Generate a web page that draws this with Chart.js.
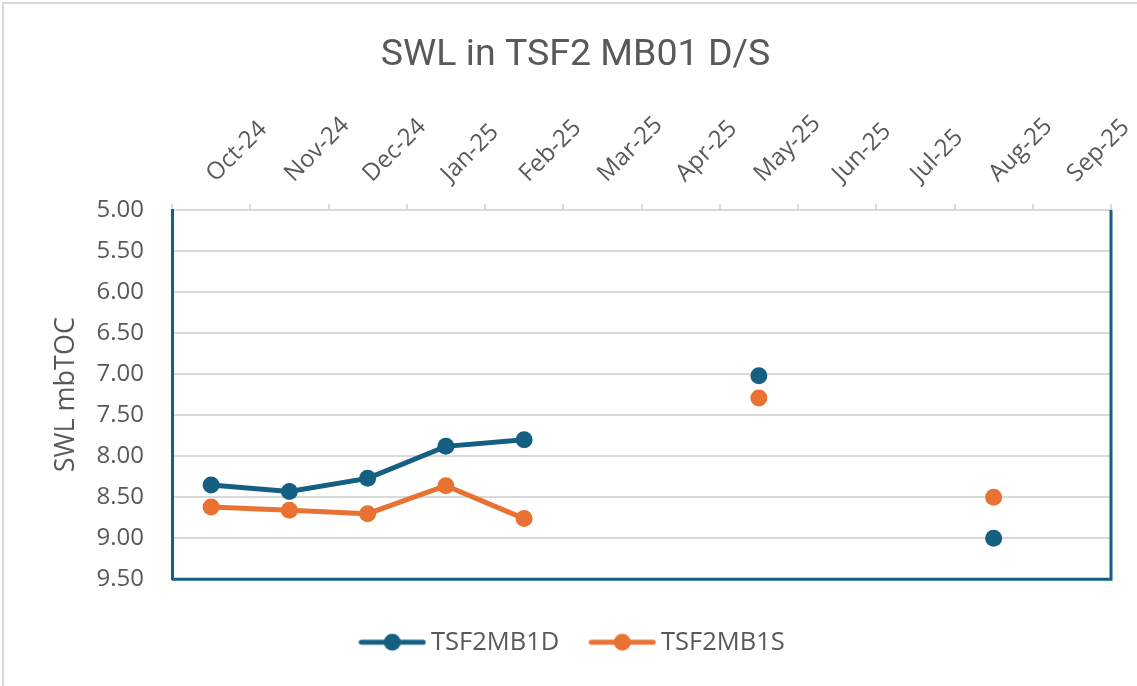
<!DOCTYPE html>
<html>
<head>
<meta charset="utf-8">
<script src="https://cdn.jsdelivr.net/npm/chart.js@4.4.1/dist/chart.umd.min.js"></script>
<style>
  body { margin: 0; background: #fff; }
  #frame { position: absolute; left: 2px; top: 2px; width: 1200px; height: 760px; border: 2px solid #d9d9d9; }
  #wrap { position: absolute; left: 0; top: 0; width: 1137px; height: 686px; }
</style>
</head>
<body>
<div id="frame"></div>
<div id="wrap"><canvas id="chart"></canvas></div>
<script>
const months = ['Oct-24', 'Nov-24', 'Dec-24', 'Jan-25', 'Feb-25', 'Mar-25', 'Apr-25', 'May-25', 'Jun-25', 'Jul-25', 'Aug-25', 'Sep-25'];
const deepValues = [8.35, 8.43, 8.27, 7.88, 7.80, null, null, 7.02, null, null, 9.00, null];
const shallowValues = [8.62, 8.66, 8.70, 8.36, 8.76, null, null, 7.29, null, null, 8.50, null];
const yTicks = [5.0, 5.5, 6.0, 6.5, 7.0, 7.5, 8.0, 8.5, 9.0, 9.5];

const BLUE = '#156082';
const ORANGE = '#E97132';
const GREY = '#595959';
const GRID = '#d9d9d9';
const FONT = "'Open Sans', sans-serif";

// line with a dot in the middle, like the Excel legend key
function legendIcon(color) {
    const c = document.createElement('canvas');
    c.width = 68;
    c.height = 20;
    const g = c.getContext('2d');
    g.strokeStyle = color;
    g.lineWidth = 5;
    g.lineCap = 'round';
    g.beginPath();
    g.moveTo(3, 10);
    g.lineTo(65, 10);
    g.stroke();
    g.fillStyle = color;
    g.beginPath();
    g.arc(34, 10, 8.5, 0, Math.PI * 2);
    g.fill();
    return c;
}

// blue plot border on bottom and right
const frameLines = {
    id: 'frameLines',
    afterDraw(chart) {
        const { ctx, chartArea: a } = chart;
        ctx.save();
        ctx.strokeStyle = BLUE;
        ctx.lineWidth = 3;
        ctx.beginPath();
        ctx.moveTo(a.left, a.bottom);
        ctx.lineTo(a.right, a.bottom);
        ctx.lineTo(a.right, a.top);
        ctx.stroke();
        ctx.restore();
    }
};

const ctx = document.getElementById('chart').getContext('2d');
new Chart(ctx, {
    type: 'line',
    data: {
        labels: months,
        datasets: [{
            label: 'TSF2MB1D',
            data: deepValues,
            borderColor: BLUE,
            backgroundColor: BLUE,
            pointBackgroundColor: BLUE,
            pointBorderColor: BLUE,
            borderWidth: 5,
            pointRadius: 8.5,
            pointBorderWidth: 0,
            spanGaps: false
        }, {
            label: 'TSF2MB1S',
            data: shallowValues,
            borderColor: ORANGE,
            backgroundColor: ORANGE,
            pointBackgroundColor: ORANGE,
            pointBorderColor: ORANGE,
            borderWidth: 5,
            pointRadius: 8.5,
            pointBorderWidth: 0,
            spanGaps: false
        }]
    },
    options: {
        responsive: true,
        maintainAspectRatio: false,
        animation: false,
        layout: { padding: { left: 40, right: 26, top: 0, bottom: 21 } },
        plugins: {
            title: {
                display: true,
                text: 'SWL in TSF2 MB01 D/S',
                color: GREY,
                font: { family: "'Roboto', sans-serif", size: 37.5, weight: 'normal' },
                padding: { top: 33, bottom: 5 }
            },
            legend: {
                position: 'bottom',
                title: { display: true, text: ' ', font: { size: 1 }, padding: { top: 12, bottom: 0 } },
                labels: {
                    usePointStyle: true,
                    pointStyleWidth: 52,
                    color: GREY,
                    font: { family: FONT, size: 25.5 },
                    padding: 37,
                    generateLabels(chart) {
                        return chart.data.datasets.map((ds, i) => ({
                            text: ds.label,
                            fillStyle: ds.borderColor,
                            strokeStyle: ds.borderColor,
                            pointStyle: legendIcon(ds.borderColor),
                            fontColor: GREY,
                            lineWidth: 0,
                            hidden: false,
                            datasetIndex: i
                        }));
                    }
                }
            },
            tooltip: { enabled: false }
        },
        scales: {
            x: {
                position: 'top',
                offset: true,
                afterFit(scale) {
                    scale.height = 127;
                    scale.paddingLeft = 0;
                    scale.paddingRight = 0;
                },
                grid: { drawOnChartArea: false, drawTicks: true, tickLength: 6, color: GRID, lineWidth: 2, offset: true },
                border: { color: GRID, width: 2 },
                ticks: {
                    color: GREY,
                    font: { family: FONT, size: 24 },
                    minRotation: 45,
                    maxRotation: 45,
                    autoSkip: false,
                    padding: 16,
                    labelOffset: 20
                }
            },
            y: {
                reverse: true,
                min: yTicks[0],
                max: yTicks[yTicks.length - 1],
                afterBuildTicks(scale) {
                    scale.ticks = yTicks.map(v => ({ value: v }));
                },
                afterFit(scale) { scale.width = 132; },
                grid: { color: GRID, lineWidth: 2, drawTicks: false },
                border: { color: BLUE, width: 3 },
                ticks: {
                    color: GREY,
                    font: { family: FONT, size: 24 },
                    padding: 28,
                    callback: v => Number(v).toFixed(2)
                },
                title: {
                    display: true,
                    text: 'SWL mbTOC',
                    color: GREY,
                    font: { family: FONT, size: 27 },
                    padding: { top: 10, bottom: 0 }
                }
            }
        }
    },
    plugins: [frameLines]
});
</script>
</body>
</html>
